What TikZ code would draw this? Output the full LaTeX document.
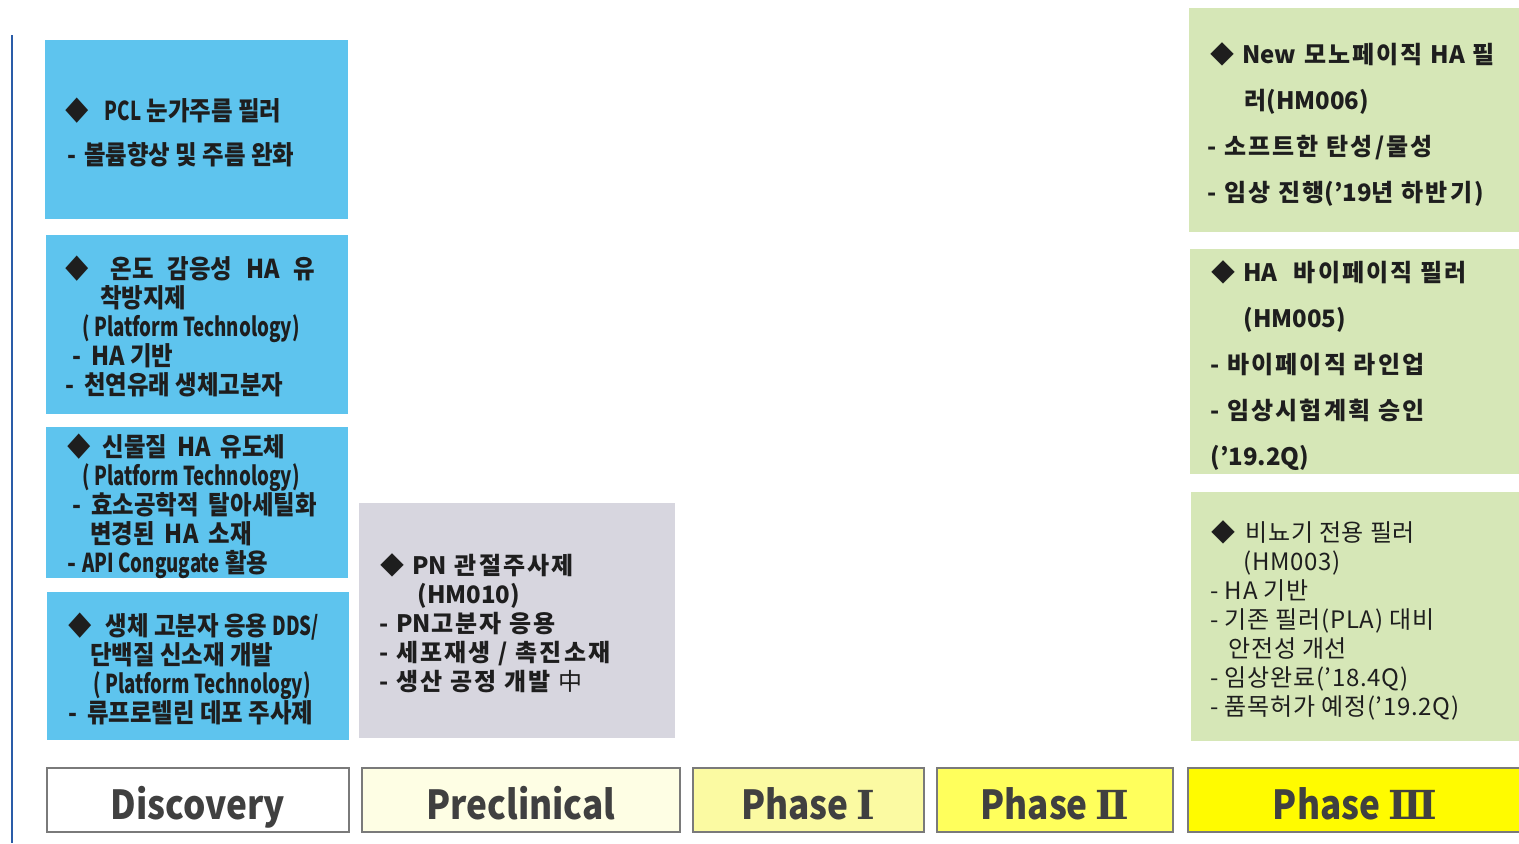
\documentclass[tikz,border=0pt]{standalone}
\usepackage{fontspec}
\newfontfamily\kr{Noto Sans CJK KR}
\newfontfamily\krs{Noto Sans CJK KR}[LetterSpace=9]
\newfontfamily\krt{Noto Sans CJK KR}[LetterSpace=3]
\newfontfamily\krn{Noto Sans CJK KR}[FakeStretch=0.9]
\newfontfamily\krl{Noto Sans CJK KR}[FakeStretch=0.72]
\newfontfamily\krp{Noto Sans CJK KR}[FakeStretch=0.88]
\newfontfamily\numfont{DejaVu Serif}
\definecolor{skyblue}{HTML}{5EC4EE}
\definecolor{cardgray}{HTML}{D7D6DF}
\definecolor{cardgreen}{HTML}{D6E7B7}
\definecolor{inkgray}{HTML}{1E1E1E}
\definecolor{stageline}{HTML}{7A7A7A}
\definecolor{railblue}{HTML}{2A5CA8}
\definecolor{preyellow}{HTML}{FEFEE4}
\definecolor{oneyellow}{HTML}{FBFAA2}
\definecolor{twoyellow}{HTML}{FFFF5C}
\definecolor{threeyellow}{HTML}{FFFB00}
\newcommand{\dmd}[1]{◆\hspace*{#1}}
\newcommand{\narrow}[1]{{\krl #1}}
\newcommand{\lat}[1]{{\kr #1}}
\newcommand{\rn}[1]{{\numfont #1}}
\tikzset{
  card/.style={anchor=north west, inner sep=0pt, outer sep=0pt},
  bluecard/.style={card, fill=skyblue},
  graycard/.style={card, fill=cardgray},
  greencard/.style={card, fill=cardgreen},
  cardtext/.style={anchor=north west, inner sep=0pt, align=left, text=inkgray},
  bluetext/.style={cardtext, font=\krn\bfseries\fontsize{13}{14.5}\selectfont},
  greentext/.style={cardtext, font=\krs\bfseries\fontsize{12}{23}\selectfont},
  stage/.style={card, draw=stageline, line width=1.1pt, minimum height=32pt,
    text height=19pt, text depth=0pt,
    text=inkgray!85, font=\krp\bfseries\fontsize{20}{24}\selectfont}
}
\begin{document}
\begin{tikzpicture}[x=0.5pt, y=-0.5pt]
  \useasboundingbox (0,0) rectangle (1519,843);
  \coordinate (railtop) at (12,35);
  \coordinate (railbot) at (12,843);
  \draw[railblue, line width=1.3pt] (railtop) -- (railbot);

  % discovery column
  \node[bluecard, minimum width=151.5pt, minimum height=89.5pt] (b1) at (45,40) {};
  \node[bluecard, minimum width=151pt, minimum height=89.5pt] (b2) at (46,235) {};
  \node[bluecard, minimum width=151pt, minimum height=75.5pt] (b3) at (46,427) {};
  \node[bluecard, minimum width=151pt, minimum height=74pt] (b4) at (47,592) {};

  \node[bluetext, font=\krn\bfseries\fontsize{13}{22}\selectfont] (t1) at (65,98)
    {\dmd{8pt}\narrow{PCL} 눈가주름 필러\\
     \hspace*{1pt}-\hspace*{4pt}볼륨향상 및 주름 완화};
  \node[bluetext] (t2) at (65,256)
    {\dmd{11pt}온도\hspace*{7pt}감응성\hspace*{7pt}HA\hspace*{7pt}유\\
     \hspace*{17.5pt}착방지제\\
     \hspace*{8.5pt}\narrow{( Platform Technology)}\\
     \hspace*{3.5pt}-\hspace*{5pt}HA 기반\\
     -\hspace*{5pt}천연유래 생체고분자};
  \node[bluetext] (t3) at (67,434)
    {\dmd{6pt}신물질\hspace*{5pt}HA\hspace*{5pt}유도체\\
     \hspace*{7.5pt}\narrow{( Platform Technology)}\\
     \hspace*{2.5pt}-\hspace*{5pt}효소공학적\hspace*{5pt}탈아세틸화\\
     \hspace*{11.5pt}변경된\hspace*{5pt}HA\hspace*{5pt}소재\\
     -\hspace*{3pt}\narrow{API Congugate} 활용};
  \node[bluetext] (t4) at (68,613)
    {\dmd{7pt}생체 고분자 응용 \narrow{DDS/}\\
     \hspace*{11pt}단백질 신소재 개발\\
     \hspace*{12.5pt}\narrow{( Platform Technology)}\\
     -\hspace*{5pt}류프로렐린 데포 주사제};

  % preclinical column
  \node[graycard, minimum width=158pt, minimum height=117.5pt] (p1) at (359,503) {};
  \node[cardtext, font=\krs\bfseries\fontsize{12}{14.5}\selectfont] (t5) at (379,553)
    {\hspace*{0.5pt}\dmd{4pt}\lat{PN} 관절주사제\\
     \hspace*{19pt}\lat{(HM010)}\\
     - \lat{PN}고분자 응용\\
     - 세포재생 / 촉진소재\\
     - 생산 공정 개발 {\fontseries{m}\selectfont 中}};

  % phase III column
  \node[greencard, minimum width=165pt, minimum height=112pt] (g1) at (1189,8) {};
  \node[greencard, minimum width=164.5pt, minimum height=112.5pt] (g2) at (1190,249) {};
  \node[greencard, minimum width=164pt, minimum height=124.5pt] (g3) at (1191,492) {};

  \node[greentext] (t6) at (1207,42)
    {\hspace*{1.5pt}\dmd{4pt}\lat{New} 모노페이직 \lat{HA} 필\\
     \hspace*{18.5pt}러\lat{(HM006)}\\
     - 소프트한 탄성/물성\\
     - 임상 진행\lat{(’19}년 하반기)};
  \node[greentext] (t7) at (1210,260)
    {\hspace*{0.5pt}\dmd{4pt}\lat{HA}\hspace*{8pt}바이페이직 필러\\
     \hspace*{16.5pt}\lat{(HM005)}\\
     - 바이페이직 라인업\\
     - 임상시험계획 승인\\
     \lat{(’19.2Q)}};
  \node[cardtext, font=\krt\fontsize{12}{14.5}\selectfont] (t8) at (1210,520)
    {\hspace*{0.5pt}\dmd{5pt}비뇨기 전용 필러\\
     \hspace*{16.5pt}(HM003)\\
     - HA 기반\\
     - 기존 필러(PLA) 대비\\
     \hspace*{9pt}안전성 개선\\
     - 임상완료(’18.4Q)\\
     - 품목허가 예정(’19.2Q)};

  % stages
  \node[stage, fill=white, minimum width=151pt] (s1) at (47,768) {Discovery};
  \node[stage, fill=preyellow, minimum width=159pt] (s2) at (362,768) {Preclinical};
  \node[stage, fill=oneyellow, minimum width=115.5pt] (s3) at (693,768) {Phase \rn{Ⅰ}};
  \node[stage, fill=twoyellow, minimum width=118pt] (s4) at (937,768) {Phase \rn{Ⅱ}};
  \node[stage, fill=threeyellow, minimum width=167pt] (s5) at (1188,768) {Phase \rn{Ⅲ}};
\end{tikzpicture}
\end{document}
